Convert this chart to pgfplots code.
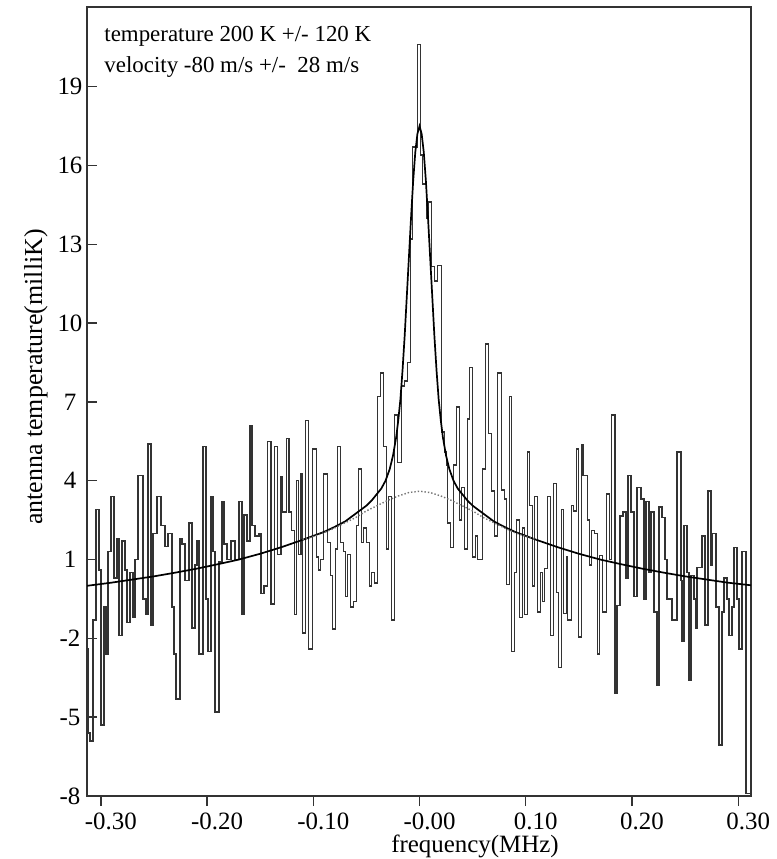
\documentclass[border=0pt]{standalone}
\usepackage{fontspec}
\setmainfont{Liberation Serif}
\usepackage{pgfplots}
\pgfplotsset{compat=1.18}

\begin{document}
\begin{tikzpicture}
\useasboundingbox (-43.5bp,-31.5bp) rectangle (345bp,398bp);
\begin{axis}[
  scale only axis, width=332bp, height=394.5bp,
  xmin=-0.313, xmax=0.312, ymin=-8, ymax=22.03,
  axis line style={black!80, line width=0.7bp},
  tick style={black!80, line width=0.7bp},
  xtick={-0.3,-0.2,-0.1,0,0.1,0.2,0.3},
  xticklabels={-0.30,-0.20,-0.10,-0.00,0.10,0.20,0.30},
  ytick={-8,-5,-2,1,4,7,10,13,16,19},
  yticklabels={-8,-5,-2,1,4,7,10,13,16,19},
  xtick pos=left, ytick pos=left,
  tick align=inside, major tick length=5bp,
  x tick style={yshift=-5bp},
  tick label style={font=\fontsize{12.5}{14}\selectfont},
  xticklabel style={anchor=north, xshift=5bp, yshift=-4.8bp},
  yticklabel style={anchor=center, xshift=-8.5bp},
]
% measured spectrum (step plot)
\addplot[const plot, black!80, line width=0.75bp] coordinates {
(-0.3130,-2.4) (-0.3120,-5.6) (-0.3102,-5.9) (-0.3073,-1.3) (-0.3045,2.9)
(-0.3017,0.6) (-0.2998,-5.3) (-0.2970,-0.8) (-0.2951,-2.6) (-0.2932,1.3)
(-0.2904,3.4) (-0.2876,0.3) (-0.2848,1.8) (-0.2829,-1.9) (-0.2801,1.7)
(-0.2773,0.6) (-0.2754,-1.4) (-0.2726,0.5) (-0.2697,-1.2) (-0.2679,1.0)
(-0.2650,4.2) (-0.2603,-0.5) (-0.2575,-1.1) (-0.2556,5.4) (-0.2528,-1.5)
(-0.2509,2.0) (-0.2472,3.4) (-0.2434,2.3) (-0.2397,1.5) (-0.2368,2.0)
(-0.2331,-0.8) (-0.2312,-2.6) (-0.2293,-4.3) (-0.2256,1.8) (-0.2237,1.6)
(-0.2209,0.2) (-0.2171,2.4) (-0.2143,-1.6) (-0.2115,0.8) (-0.2096,1.7)
(-0.2077,-2.6) (-0.2039,5.3) (-0.2011,-0.5) (-0.1992,-2.5) (-0.1964,3.4)
(-0.1945,1.3) (-0.1927,-4.8) (-0.1889,0.9) (-0.1861,3.2) (-0.1842,1.6)
(-0.1814,1.0) (-0.1776,1.7) (-0.1739,1.0) (-0.1701,3.2) (-0.1673,-1.1)
(-0.1654,2.7) (-0.1626,1.7) (-0.1598,6.1) (-0.1579,2.3) (-0.1551,1.9)
(-0.1513,2.0) (-0.1494,-0.3) (-0.1466,0.0) (-0.1429,5.5) (-0.1400,-0.7)
(-0.1363,5.3) (-0.1335,1.2) (-0.1306,4.15) (-0.1288,2.8) (-0.1250,5.6)
(-0.1231,2.8) (-0.1203,2.1) (-0.1175,-1.1) (-0.1156,4.0) (-0.1137,1.2)
(-0.1118,4.25) (-0.1100,-1.8) (-0.1071,6.3) (-0.1043,-2.4) (-0.1006,5.2)
(-0.0968,1.1) (-0.0949,0.6) (-0.0930,1.0) (-0.0902,4.25) (-0.0865,1.65)
(-0.0836,0.4) (-0.0818,-1.65) (-0.0789,1.4) (-0.0771,5.3) (-0.0742,1.65)
(-0.0714,1.3) (-0.0695,-0.4) (-0.0677,1.2) (-0.0649,-0.8) (-0.0620,-0.6)
(-0.0592,2.3) (-0.0573,4.45) (-0.0545,1.65) (-0.0526,2.2) (-0.0498,1.65)
(-0.0470,0.0) (-0.0451,0.5) (-0.0423,0.1) (-0.0395,7.2) (-0.0367,8.1)
(-0.0338,5.3) (-0.0310,1.4) (-0.0291,3.4) (-0.0263,-1.3) (-0.0235,6.5)
(-0.0207,4.7) (-0.0169,7.6) (-0.0141,7.8) (-0.0113,8.5) (-0.0085,13.2)
(-0.0066,16.7) (-0.0019,20.6) (0.0009,16.4) (0.0028,15.3) (0.0066,14.0)
(0.0085,14.6) (0.0113,12.15) (0.0141,11.6) (0.0169,12.2) (0.0207,5.85)
(0.0235,5.1) (0.0254,4.6) (0.0263,2.4) (0.0291,1.45) (0.0320,4.6)
(0.0348,6.8) (0.0376,2.5) (0.0395,3.75) (0.0423,1.4) (0.0451,6.35)
(0.0470,8.3) (0.0498,1.1) (0.0526,1.9) (0.0545,1.0) (0.0592,4.45)
(0.0620,9.2) (0.0649,5.8) (0.0677,3.6) (0.0705,1.9) (0.0733,8.1)
(0.0771,3.65) (0.0799,3.3) (0.0818,0.05) (0.0846,7.2) (0.0865,-2.5)
(0.0893,0.5) (0.0912,2.5) (0.0940,-1.2) (0.0968,2.2) (0.0987,-1.1)
(0.1015,5.1) (0.1034,3.05) (0.1062,0.0) (0.1081,3.4) (0.1109,-1.0)
(0.1137,0.5) (0.1156,-0.6) (0.1175,0.65) (0.1203,3.4) (0.1231,-1.9)
(0.1259,3.9) (0.1288,-0.25) (0.1306,-3.1) (0.1335,2.9) (0.1353,-1.05)
(0.1382,1.1) (0.1391,-1.3) (0.1429,3.05) (0.1447,2.85) (0.1476,5.2)
(0.1494,-1.95) (0.1523,5.35) (0.1541,4.2) (0.1579,2.5) (0.1598,0.8)
(0.1617,2.1) (0.1645,2.0) (0.1673,-2.6) (0.1692,1.15) (0.1720,-1.0)
(0.1758,3.5) (0.1786,1.0) (0.1805,6.5) (0.1842,-4.1) (0.1861,-0.75)
(0.1889,2.65) (0.1917,2.8) (0.1945,0.3) (0.1964,4.2) (0.1992,2.8)
(0.2021,-0.4) (0.2049,3.75) (0.2086,3.3) (0.2115,-0.5) (0.2133,3.2)
(0.2162,0.5) (0.2180,2.8) (0.2209,-1.0) (0.2237,-3.8) (0.2256,3.0)
(0.2284,2.6) (0.2312,1.0) (0.2331,-0.5) (0.2378,-1.3) (0.2425,5.1)
(0.2462,0.2) (0.2472,-2.1) (0.2491,2.3) (0.2519,0.5) (0.2538,-3.6)
(0.2556,0.4) (0.2585,-0.5) (0.2603,-1.6) (0.2613,0.7) (0.2660,1.9)
(0.2688,-1.5) (0.2716,3.6) (0.2744,0.8) (0.2754,2.0) (0.2791,-0.8)
(0.2820,-6.05) (0.2848,-1.0) (0.2867,0.3) (0.2895,-0.5) (0.2914,-1.9)
(0.2942,-0.8) (0.2961,1.45) (0.2989,-0.5) (0.3008,-2.4) (0.3036,1.3)
(0.3073,-7.9) (0.3120,-7.9)
};
% fitted line profile
\addplot[black, line width=0.85bp] coordinates {
(-0.313,0.0) (-0.290,0.12) (-0.270,0.24) (-0.250,0.36) (-0.230,0.5)
(-0.210,0.65) (-0.190,0.82) (-0.170,1.0) (-0.150,1.22) (-0.130,1.47)
(-0.110,1.75) (-0.100,1.9) (-0.090,2.05) (-0.080,2.24) (-0.070,2.45)
(-0.060,2.75) (-0.050,3.05) (-0.045,3.25) (-0.040,3.5) (-0.036,3.7)
(-0.032,4.0) (-0.028,4.45) (-0.025,4.95) (-0.022,5.65) (-0.020,6.3)
(-0.018,7.1) (-0.016,8.2) (-0.014,9.5) (-0.012,11.0) (-0.010,12.5)
(-0.008,14.0) (-0.006,15.4) (-0.004,16.5) (-0.002,17.2) (0.000,17.5)
(0.002,17.2) (0.004,16.5) (0.006,15.4) (0.008,14.0) (0.010,12.5)
(0.012,11.0) (0.014,9.5) (0.016,8.2) (0.018,7.1) (0.020,6.3)
(0.022,5.65) (0.025,4.95) (0.028,4.45) (0.032,4.0) (0.036,3.7)
(0.040,3.5) (0.045,3.25) (0.050,3.05) (0.060,2.75) (0.070,2.45)
(0.080,2.24) (0.090,2.05) (0.100,1.9) (0.110,1.75) (0.130,1.47)
(0.150,1.22) (0.170,1.0) (0.190,0.82) (0.210,0.65) (0.230,0.5)
(0.250,0.36) (0.270,0.24) (0.290,0.12) (0.312,0.02)
};
% broad component
\addplot[black!55, densely dotted, line width=0.7bp] coordinates {
(-0.110,1.75) (-0.100,1.88) (-0.090,2.02) (-0.080,2.2) (-0.070,2.4)
(-0.060,2.6) (-0.050,2.85) (-0.040,3.05) (-0.030,3.25) (-0.020,3.42)
(-0.010,3.55) (0.000,3.6) (0.010,3.55) (0.020,3.42) (0.030,3.25)
(0.040,3.05) (0.050,2.85) (0.060,2.6) (0.070,2.4) (0.080,2.2)
(0.090,2.02) (0.100,1.88) (0.110,1.75)
};
\end{axis}
\node[anchor=base west, inner sep=0, font=\fontsize{11.5}{13}\selectfont] at (8.5bp,377.1bp) {temperature 200 K +/- 120 K};
\node[anchor=base west, inner sep=0, font=\fontsize{11.5}{13}\selectfont] at (8.5bp,361.5bp) {velocity -80 m/s +/-\ \ 28 m/s};
\node[anchor=base, inner sep=0, font=\fontsize{12.5}{15}\selectfont] at (194bp,-28.3bp) {frequency(MHz)};
\node[anchor=base, rotate=90, inner sep=0, font=\fontsize{13}{15}\selectfont] at (-22.5bp,209.5bp) {antenna temperature(milliK)};
\end{tikzpicture}
\end{document}
